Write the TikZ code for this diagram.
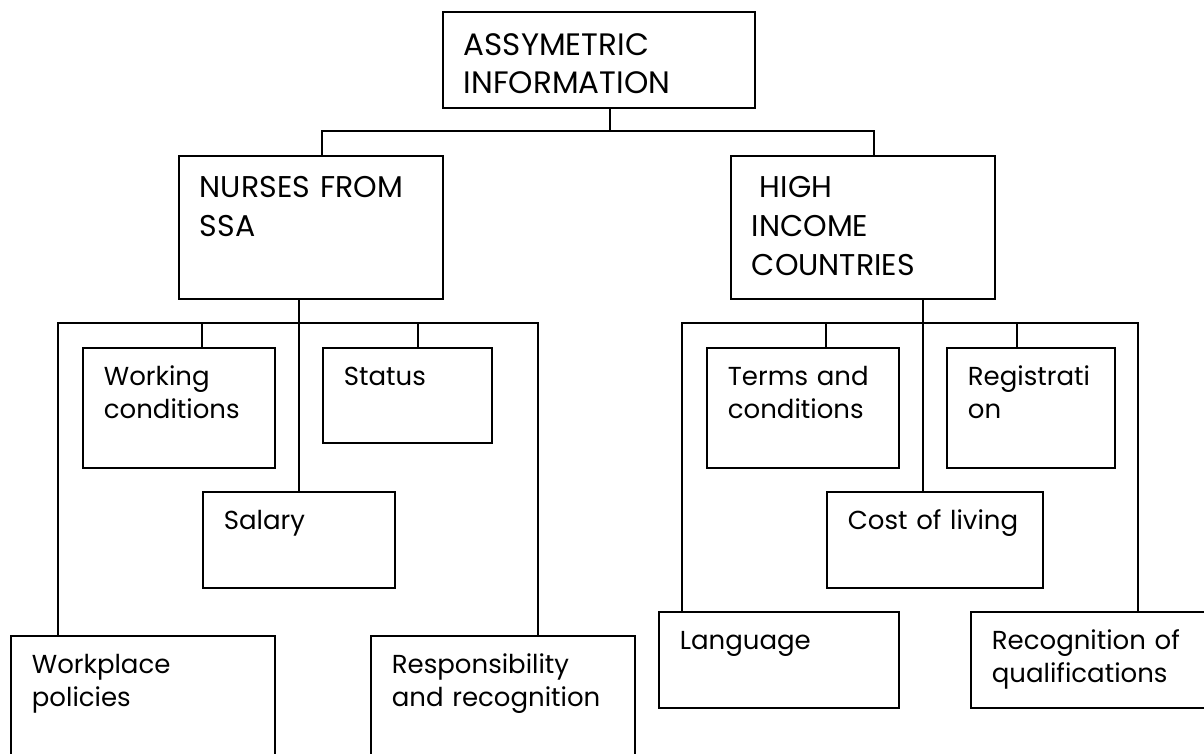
\documentclass[tikz,border=0pt]{standalone}
\usepackage{fontspec}
\setmainfont{Poppins}
\hyphenpenalty=10000

\begin{document}
\begin{tikzpicture}[x=1pt,y=-1pt,
	box/.style={draw,line width=1.8pt,anchor=north west,align=left,inner xsep=21pt,inner ysep=0pt},
	topbox/.style={box,font=\fontsize{31}{38}\selectfont,text height=44pt},
	midbox/.style={box,font=\fontsize{30}{39}\selectfont,text height=42pt,text width=222pt,text depth=101pt},
	smallbox/.style={box,font=\fontsize{26}{33}\selectfont,text height=38pt},
	line/.style={line width=1.5pt}]
	% page
	\path[use as bounding box,fill=white] (0,0) rectangle (1204,754);
	% top box
	\node[topbox,text width=270pt,text depth=52pt] (info) at (442,11) {ASSYMETRIC\\INFORMATION};
	% level two
	\node[midbox] (nurses) at (178,155) {NURSES~FROM\\SSA};
	\node[midbox] (high) at (730,155) {\hspace*{8pt}HIGH\\INCOME\\COUNTRIES};
	% nurses side
	\node[smallbox,text width=150pt,text depth=82pt] (working) at (82,347) {Working\\conditions};
	\node[smallbox,text width=127pt,text depth=57pt] (status) at (322,347) {Status};
	\node[smallbox,text width=150pt,text depth=58pt] (salary) at (202,491) {Salary};
	\node[smallbox,text width=222pt,text depth=92pt] (workplace) at (10,635) {Workplace\\policies};
	\node[smallbox,text width=222pt,text depth=92pt] (respons) at (370,635) {Responsibility\\and~recognition};
	% high income side
	\node[smallbox,text width=150pt,text depth=82pt] (terms) at (706,347) {Terms~and\\conditions};
	\node[smallbox,text width=126pt,text depth=82pt] (registr) at (946,347) {Registrati\\on};
	\node[smallbox,text width=174pt,text depth=58pt] (cost) at (826,491) {Cost~of~living};
	\node[smallbox,text width=198pt,text depth=58pt] (language) at (658,611) {Language};
	\node[smallbox,text width=222pt,text depth=58pt] (recogn) at (970,611) {Recognition~of\\qualifications};

	% top connectors
	\coordinate (t) at (610,131);
	\coordinate (tl) at (322,131);
	\coordinate (tr) at (874,131);
	\draw[line] (info.south -| t) -- (t);
	\draw[line] (nurses.north -| tl) -- (tl) -- (tr) -- (high.north -| tr);

	% nurses connectors
	\coordinate (nl) at (58,323);
	\coordinate (nr) at (538,323);
	\coordinate (nw) at (202,323);
	\coordinate (ns) at (418,323);
	\draw[line] (nurses.south -| salary.north) -- (salary.north);
	\draw[line] (workplace.north -| nl) -- (nl) -- (nr) -- (respons.north -| nr);
	\draw[line] (nw) -- (working.north -| nw);
	\draw[line] (ns) -- (status.north -| ns);

	% high income connectors
	\coordinate (hl) at (682,323);
	\coordinate (hr) at (1138,323);
	\coordinate (hc) at (923,323);
	\coordinate (ht) at (826,323);
	\coordinate (hg) at (1017,323);
	\draw[line] (high.south -| hc) -- (cost.north -| hc);
	\draw[line] (language.north -| hl) -- (hl) -- (hr) -- (recogn.north -| hr);
	\draw[line] (ht) -- (terms.north -| ht);
	\draw[line] (hg) -- (registr.north -| hg);
\end{tikzpicture}
\end{document}
